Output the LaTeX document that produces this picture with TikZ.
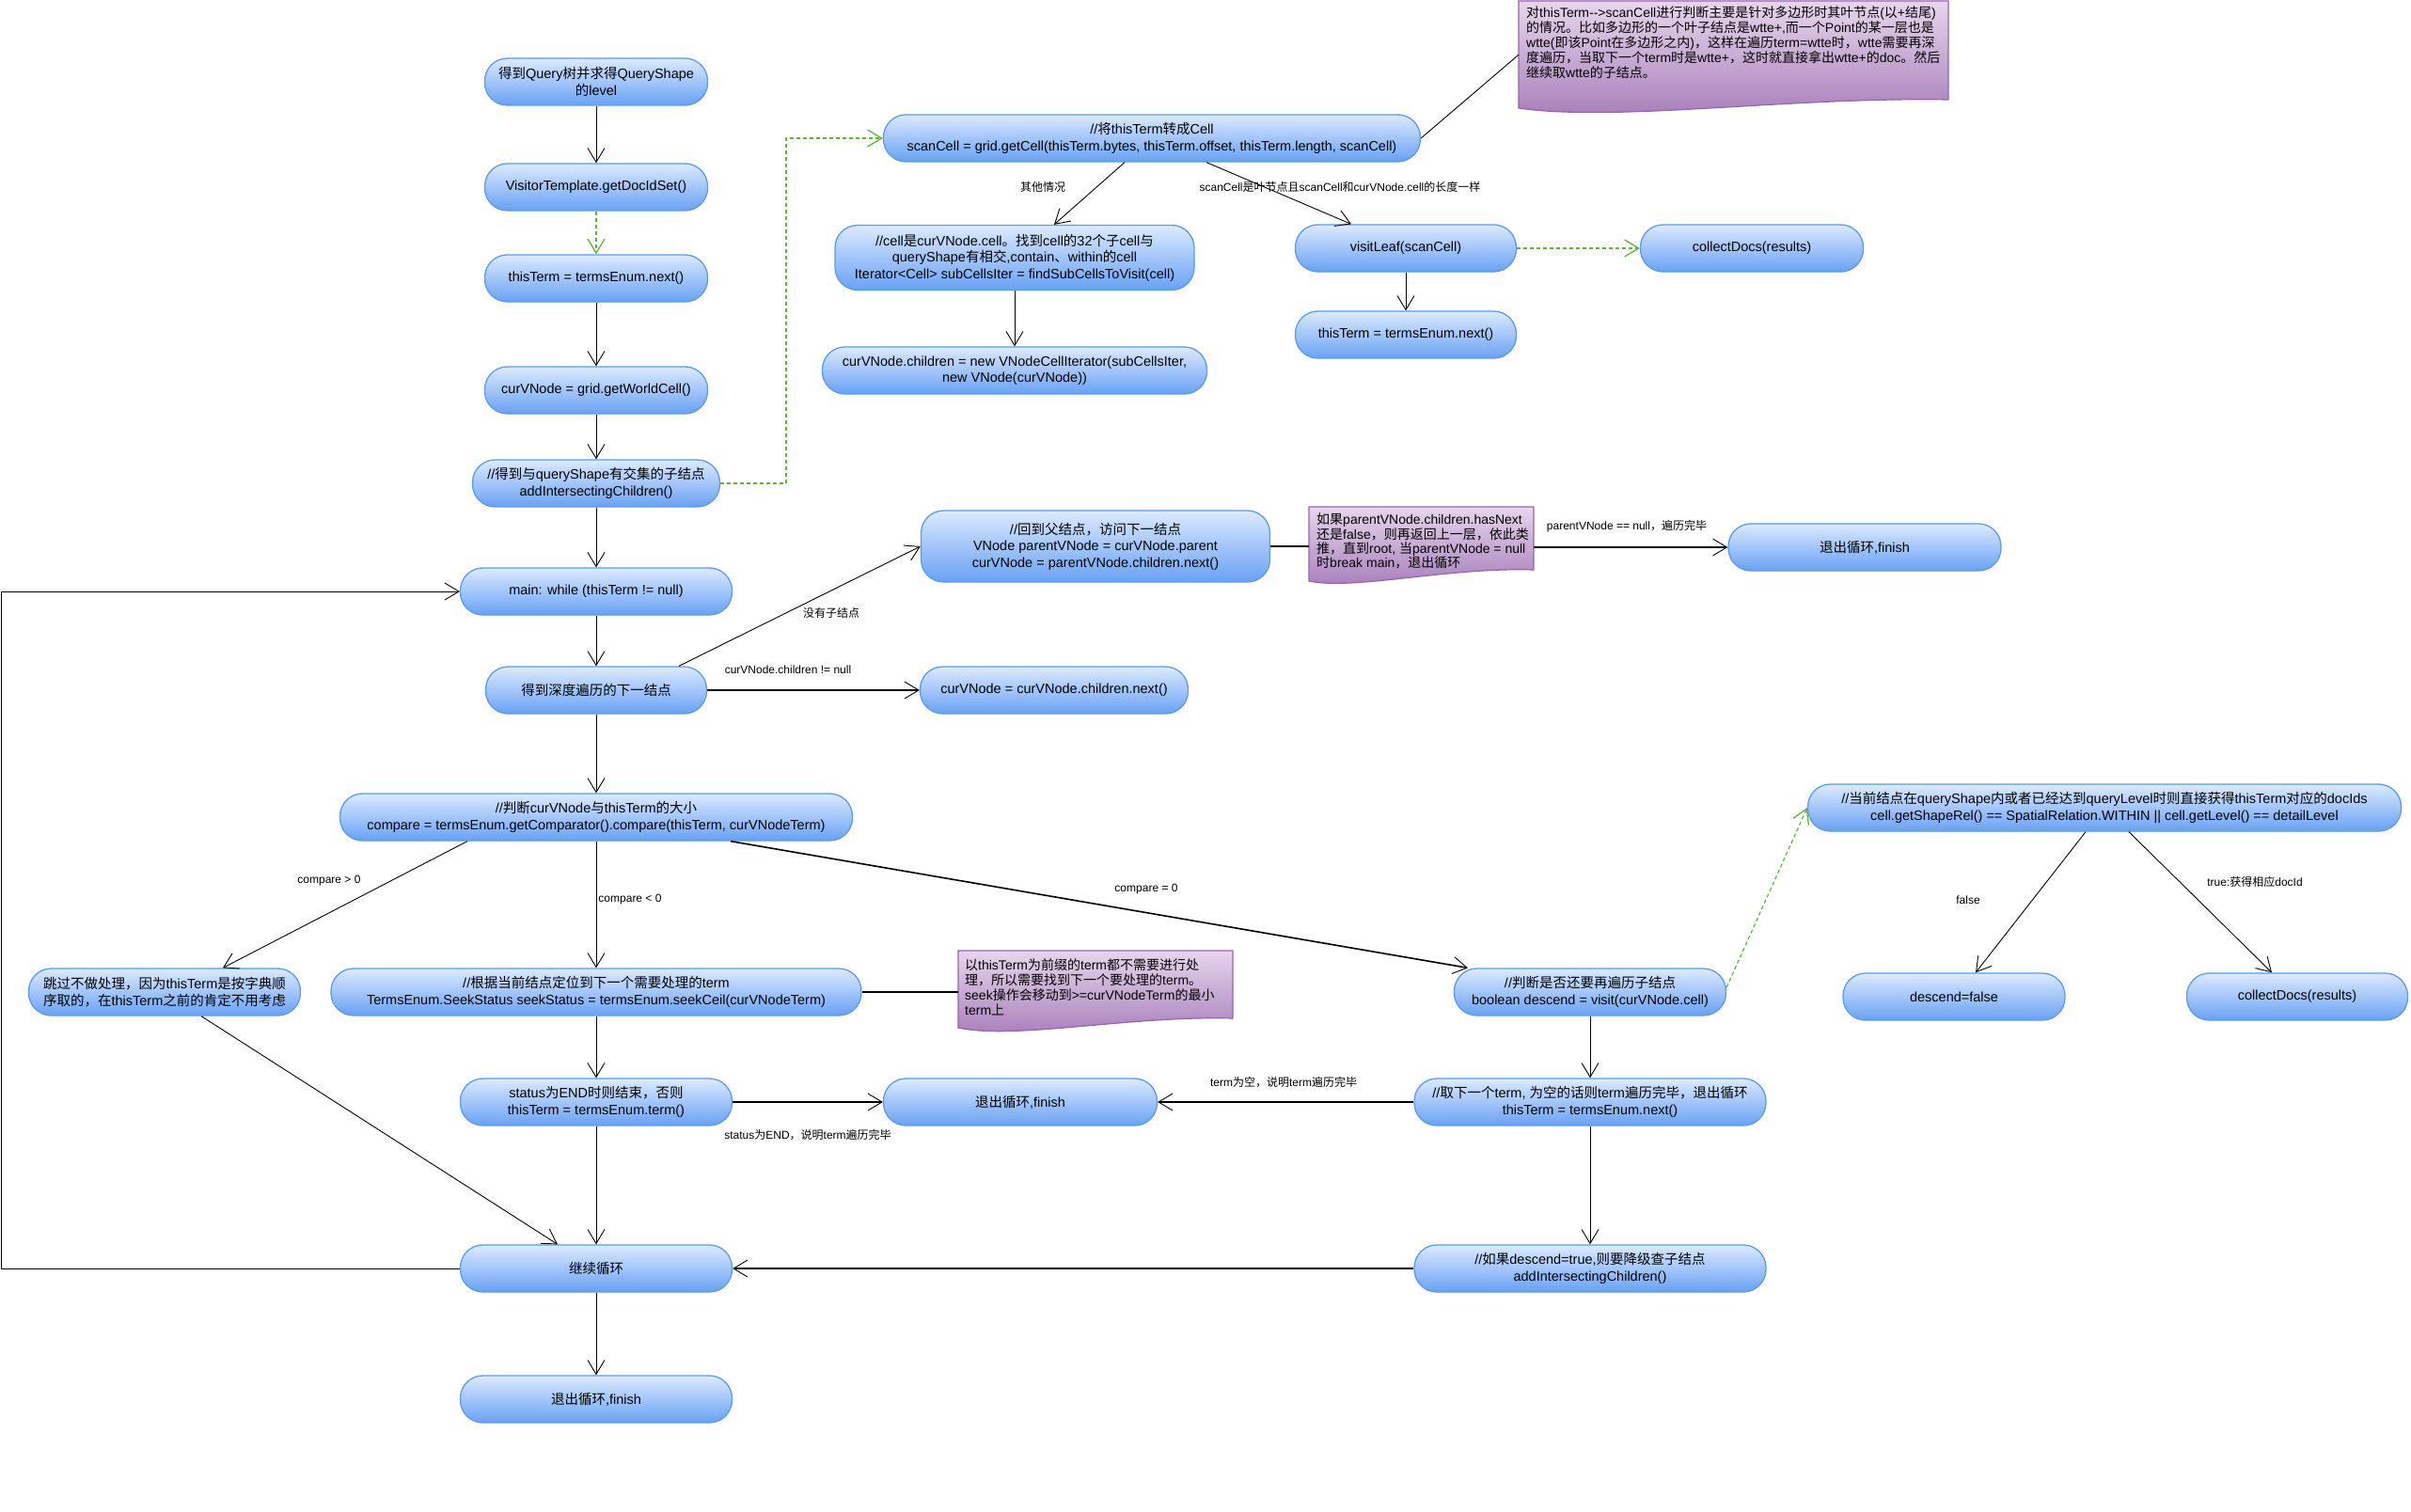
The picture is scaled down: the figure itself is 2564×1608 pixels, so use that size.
\documentclass[tikz,border=0pt]{standalone}
\usepackage{fontspec}
\setmainfont{Liberation Sans}
\newfontfamily\latfont{Liberation Sans}
\newfontfamily\cjkfont{Noto Sans CJK SC}
\usetikzlibrary{arrows.meta}
\XeTeXinterchartokenstate=1
\newXeTeXintercharclass\cjkclass
\newcount\ccnt
\def\setclassrange#1#2#3{\ccnt=#1\relax
  \loop\ifnum\ccnt<#2\relax
    \XeTeXcharclass\ccnt=#3\relax
    \advance\ccnt by 1\relax
  \repeat}
\setclassrange{"20}{"3000}{0}
\setclassrange{"3000}{"3040}{\cjkclass}
\setclassrange{"4E00}{"A000}{\cjkclass}
\setclassrange{"FF00}{"FFF0}{\cjkclass}
\XeTeXinterchartoks 0 \cjkclass = {\cjkfont}
\XeTeXinterchartoks 4095 \cjkclass = {\cjkfont}
\XeTeXinterchartoks \cjkclass 0 = {\latfont}
\XeTeXinterchartoks \cjkclass 4095 = {\latfont}

\definecolor{acttop}{HTML}{DCEAFE}
\definecolor{actbot}{HTML}{68A1F4}
\definecolor{actb}{HTML}{5B9BF0}
\definecolor{notetop}{HTML}{E6D6EC}
\definecolor{notebot}{HTML}{A47AB8}
\definecolor{noteb}{HTML}{9A62B2}
\definecolor{grn}{HTML}{5DB83A}

\newcommand\nodefs{\fontsize{14.5pt}{17.5pt}\selectfont}
\newcommand\notefs{\fontsize{14pt}{16pt}\selectfont}
\newcommand\notefsb{\fontsize{14pt}{14.6pt}\selectfont}
\newcommand\labfs{\fontsize{12pt}{14pt}\selectfont}

\tikzset{
  act/.style={draw=actb, line width=1.3pt, rounded corners=24pt,
    top color=acttop, bottom color=actbot, align=center, font=\nodefs,
    inner sep=2pt, minimum height=50pt, text=black},
  notebg/.style={draw=noteb, line width=1.2pt, top color=notetop, bottom color=notebot},
  notebox/.style={inner sep=0pt, anchor=north west},
  notetext/.style={inner sep=0pt, anchor=north west, align=left, font=\notefs},
  lab/.style={font=\labfs, inner sep=1pt},
  conn/.style={draw=black, line width=0.9pt, -{Straight Barb[length=15pt,width=18pt,line width=0.9pt]}},
  thk/.style={line width=1.6pt},
  plain/.style={draw=black, line width=0.9pt},
  gconn/.style={draw=grn, line width=1.2pt, dash pattern=on 4pt off 3pt,
    -{Straight Barb[length=15pt,width=18pt,line width=1.3pt]}},
}

\begin{document}
\begin{tikzpicture}[x=1pt,y=-1pt]
\useasboundingbox (0,0) rectangle (2564,1608);
\fill[white] (0,0) rectangle (2564,1608);

% ---------- notes ----------
\path[notebg] (1615,1) -- (2072,1) -- (2072,106) .. controls (1900,103) and (1720,130) .. (1615,115) -- cycle;
\node[notebox, minimum width=457pt, minimum height=114pt] (note1) at (1615,1) {};
\node[notetext] (note1t) at (1623,7) {对thisTerm-{}-{}>scanCell进行判断主要是针对多边形时其叶节点(以+结尾)\\的情况。比如多边形的一个叶子结点是wtte+,而一个Point的某一层也是\\wtte(即该Point在多边形之内)，这样在遍历term=wtte时，wtte需要再深\\度遍历，当取下一个term时是wtte+，这时就直接拿出wtte+的doc。然后\\继续取wtte的子结点。};

\path[notebg] (1392,539) -- (1631,539) -- (1631,606) .. controls (1540,603) and (1440,628) .. (1392,618) -- cycle;
\node[notebox, minimum width=239pt, minimum height=79pt] (note2) at (1392,539) {};
\node[notetext, font=\notefsb] (note2t) at (1400,546) {如果parentVNode.children.hasNext\\还是false，则再返回上一层，依此类\\推，直到root, 当parentVNode = null\\时break main，退出循环};

\path[notebg] (1019,1011) -- (1311,1011) -- (1311,1083) .. controls (1200,1080) and (1080,1106) .. (1019,1093) -- cycle;
\node[notebox, minimum width=292pt, minimum height=82pt] (note3) at (1019,1011) {};
\node[notetext] (note3t) at (1026,1019) {以thisTerm为前缀的term都不需要进行处\\理，所以需要找到下一个要处理的term。\\seek操作会移动到>=curVNodeTerm的最小\\term上};

% ---------- activity nodes ----------
\node[act, minimum width=237pt] (n1) at (634,87) {得到Query树并求得QueryShape\\的level};
\node[act, minimum width=237pt] (n2) at (634,199) {VisitorTemplate.getDocIdSet()};
\node[act, minimum width=237pt] (n3) at (634,296) {thisTerm = termsEnum.next()};
\node[act, minimum width=237pt] (n4) at (634,415) {curVNode = grid.getWorldCell()};
\node[act, minimum width=263pt] (n5) at (634,514) {//得到与queryShape有交集的子结点\\addIntersectingChildren()};

\node[act, minimum width=571pt] (scan) at (1225,147) {//将thisTerm转成Cell\\scanCell = grid.getCell(thisTerm.bytes, thisTerm.offset, thisTerm.length, scanCell)};
\node[act, minimum width=382pt, minimum height=69pt] (cell) at (1079,274) {//cell是curVNode.cell。找到cell的32个子cell与\\queryShape有相交,contain、within的cell\\Iterator<Cell> subCellsIter = findSubCellsToVisit(cell)};
\node[act, minimum width=409pt] (child) at (1079,394) {curVNode.children = new VNodeCellIterator(subCellsIter,\\new VNode(curVNode))};
\node[act, minimum width=235pt] (visit) at (1495,264) {visitLeaf(scanCell)};
\node[act, minimum width=237pt] (coll1) at (1863,264) {collectDocs(results)};
\node[act, minimum width=235pt] (tt2) at (1495,356) {thisTerm = termsEnum.next()};

\node[act, minimum width=289pt] (main) at (634,629) {main: while (thisTerm != null)};
\node[act, minimum width=235pt] (dfs) at (634,734) {得到深度遍历的下一结点};
\node[act, minimum width=371pt, minimum height=76pt] (parent) at (1165,581) {//回到父结点，访问下一结点\\VNode parentVNode = curVNode.parent\\curVNode = parentVNode.children.next()};
\node[act, minimum width=290pt] (exit1) at (1983,582) {退出循环,finish};
\node[act, minimum width=285pt] (nxt) at (1121,734) {curVNode = curVNode.children.next()};

\node[act, minimum width=545pt] (cmp) at (634,869) {//判断curVNode与thisTerm的大小\\compare = termsEnum.getComparator().compare(thisTerm, curVNodeTerm)};
\node[act, minimum width=289pt] (skip) at (175,1055) {跳过不做处理，因为thisTerm是按字典顺\\序取的，在thisTerm之前的肯定不用考虑};
\node[act, minimum width=564pt] (seek) at (634,1055) {//根据当前结点定位到下一个需要处理的term\\TermsEnum.SeekStatus seekStatus = termsEnum.seekCeil(curVNodeTerm)};
\node[act, minimum width=289pt] (visit2) at (1691,1055) {//判断是否还要再遍历子结点\\boolean descend = visit(curVNode.cell)};
\node[act, minimum width=631pt] (within) at (2238,859) {//当前结点在queryShape内或者已经达到queryLevel时则直接获得thisTerm对应的docIds\\cell.getShapeRel() == SpatialRelation.WITHIN || cell.getLevel() == detailLevel};
\node[act, minimum width=236pt] (dfalse) at (2078,1060) {descend=false};
\node[act, minimum width=235pt] (coll2) at (2443,1060) {collectDocs(results)};

\node[act, minimum width=289pt] (status) at (634,1172) {status为END时则结束，否则\\thisTerm = termsEnum.term()};
\node[act, minimum width=291pt] (exit2) at (1085,1172) {退出循环,finish};
\node[act, minimum width=374pt] (next2) at (1691,1172) {//取下一个term, 为空的话则term遍历完毕，退出循环\\thisTerm = termsEnum.next()};
\node[act, minimum width=289pt] (cont) at (634,1349) {继续循环};
\node[act, minimum width=374pt] (desc) at (1691,1349) {//如果descend=true,则要降级查子结点\\addIntersectingChildren()};
\node[act, minimum width=289pt] (exit3) at (634,1488) {退出循环,finish};

% ---------- connectors ----------
\draw[conn] (n1) -- (n2);
\draw[gconn] (n2) -- (n3);
\draw[conn] (n3) -- (n4);
\draw[conn] (n4) -- (n5);
\draw[conn] (n5) -- (main);
\coordinate (gx) at (836,514);
\draw[gconn] (n5.east) -- (gx) |- (scan.west);

\draw[conn] ([xshift=-29pt]scan.south) -- ([xshift=42pt]cell.north);
\draw[conn] ([xshift=58pt]scan.south) -- ([xshift=-58pt]visit.north);
\draw[conn] (cell) -- (child);
\draw[gconn] (visit) -- (coll1);
\draw[conn] (visit) -- (tt2);
\draw[plain] (scan.east) -- (note1.west);

\draw[conn] (main) -- (dfs);
\draw[conn] ([xshift=88pt]dfs.north) -- (parent.west);
\draw[conn, thk] (dfs) -- (nxt);
\draw[plain, thk] (parent.east) -- (parent.east -| note2.west);
\draw[conn, thk] (note2.east |- exit1.west) -- (exit1.west);

\draw[conn] (dfs) -- (cmp);
\draw[conn] ([xshift=-137pt]cmp.south) -- ([xshift=62pt]skip.north);
\draw[conn] (cmp) -- (seek);
\draw[conn, thk] ([xshift=143pt]cmp.south) -- ([xshift=-130pt]visit2.north);
\draw[plain, thk] (seek.east) -- (seek.east -| note3.west);

\draw[gconn] ([yshift=5pt]visit2.east) -- (within.west);
\draw[conn] ([xshift=-20pt]within.south) -- ([xshift=23pt]dfalse.north);
\draw[conn] ([xshift=26pt]within.south) -- ([xshift=-27pt]coll2.north);

\draw[conn] (seek) -- (status);
\draw[conn, thk] (status) -- (exit2);
\draw[conn] (visit2) -- (next2);
\draw[conn, thk] (next2) -- (exit2);
\draw[conn] (status) -- (cont);
\draw[conn] ([xshift=39pt]skip.south) -- ([xshift=-41pt]cont.north);
\draw[conn] (next2) -- (desc);
\draw[conn, thk] (desc) -- (cont);
\draw[conn] (cont) -- (exit3);
\coordinate (lb) at (1.5,1349);
\draw[conn] (cont.west) -- (lb) |- (main.west);

% ---------- labels ----------
\node[lab] (l1) at (1109,199) {其他情况};
\node[lab] (l2) at (1425,199) {scanCell是叶节点且scanCell和curVNode.cell的长度一样};
\node[lab] (l3) at (884,652) {没有子结点};
\node[lab] (l4) at (838,712) {curVNode.children != null};
\node[lab] (l5) at (1730,560) {parentVNode == null，遍历完毕};
\node[lab] (l6) at (350,937) {compare > 0};
\node[lab] (l7) at (670,957) {compare < 0};
\node[lab] (l8) at (1219,946) {compare = 0};
\node[lab] (l9) at (2093,957) {false};
\node[lab] (l10) at (2398,938) {true:获得相应docId};
\node[lab] (l11) at (859,1207) {status为END，说明term遍历完毕};
\node[lab] (l12) at (1365,1151) {term为空，说明term遍历完毕};
\end{tikzpicture}
\end{document}
